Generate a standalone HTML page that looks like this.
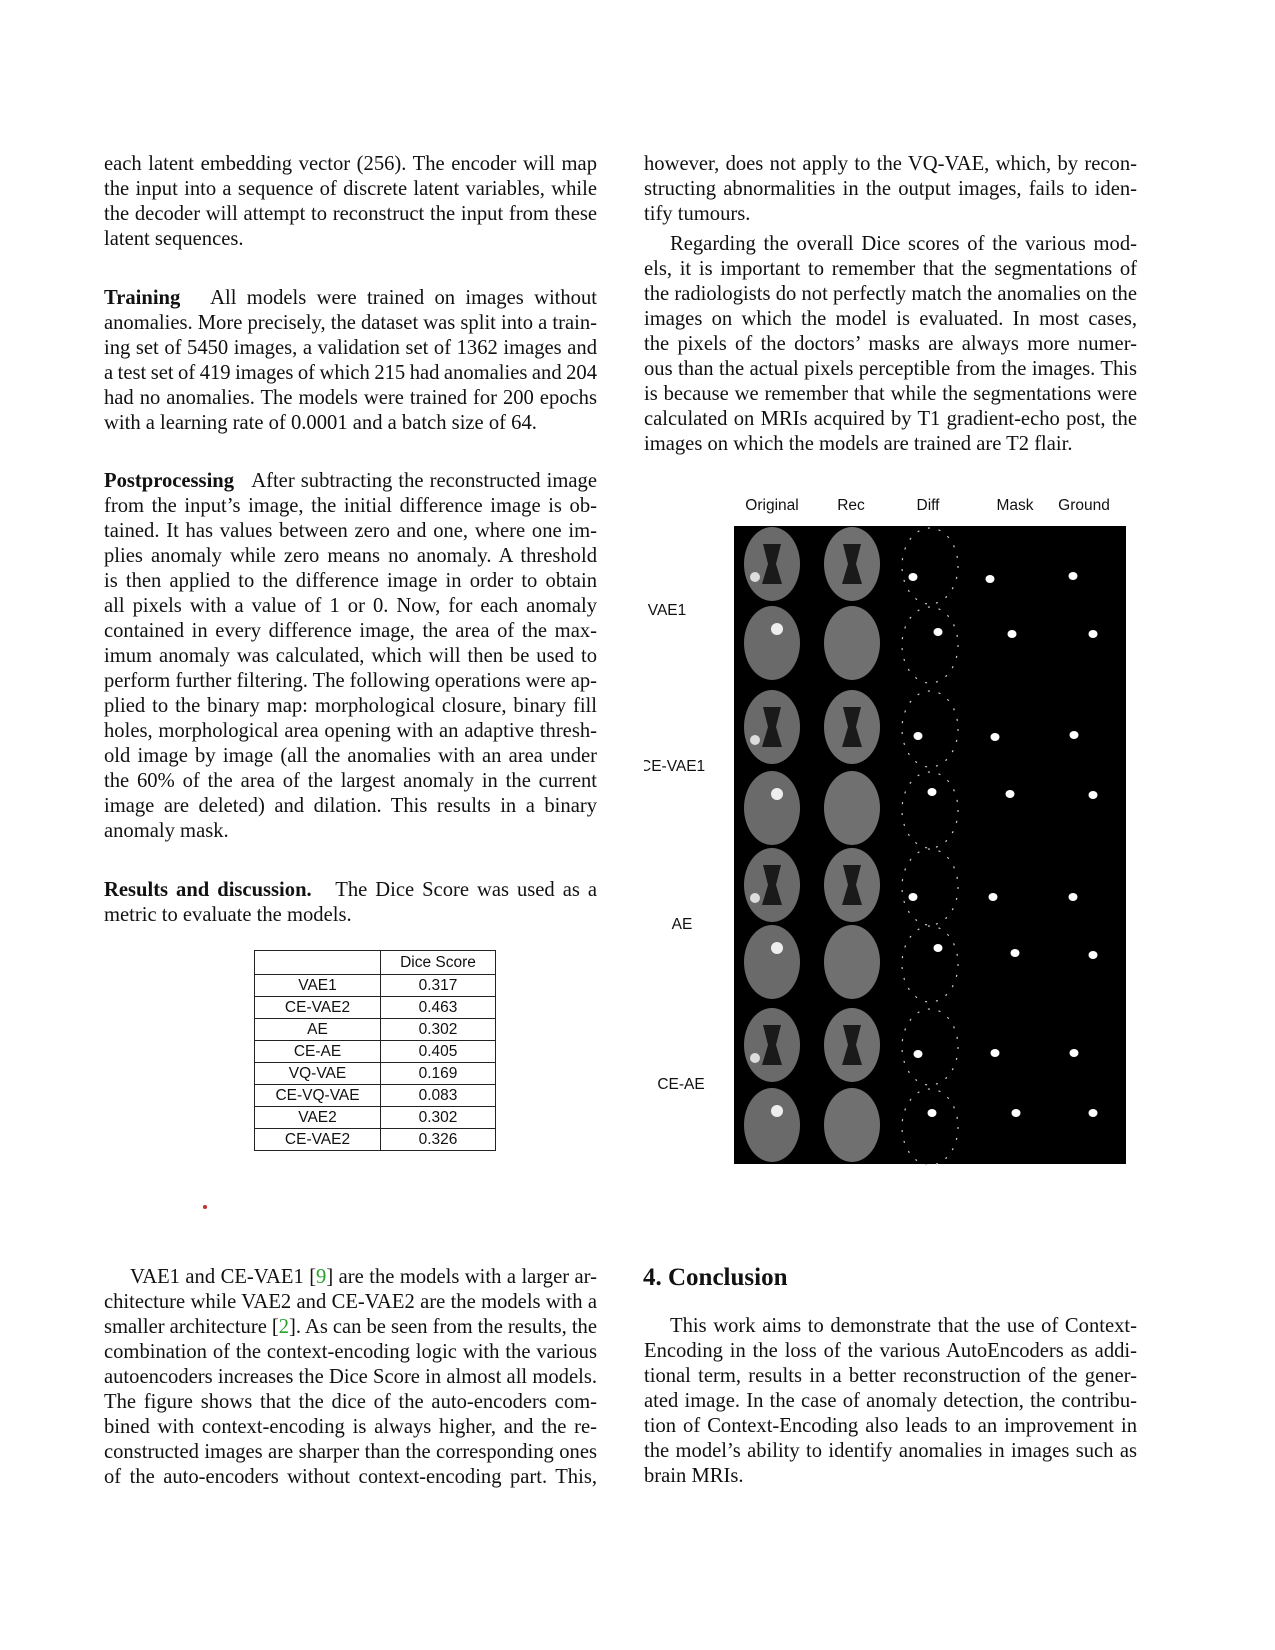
<!DOCTYPE html>
<html><head><meta charset="utf-8">
<style>
body{margin:0;background:#fff;}
#page{position:relative;width:1275px;height:1650px;overflow:hidden;background:#fff;font-family:"Liberation Serif",serif;font-size:20.6px;color:#111;}
.blk{position:absolute;width:493px;line-height:25px;}
.blk div{text-align:justify;text-align-last:justify;white-space:nowrap;word-spacing:-2px;}
.blk div.e{text-align-last:left;word-spacing:0;}
.blk div.i{text-indent:26px;}
.L{left:104px;} .R{left:644px;}
b{font-weight:bold;}
.cite{color:#2ca02c;}
table{position:absolute;left:254px;top:950px;border-collapse:collapse;font-family:"Liberation Sans",sans-serif;font-size:15.5px;}
td{border:1.5px solid #222;height:21px;padding:0;text-align:center;line-height:20px;}
.lab{position:absolute;font-family:"Liberation Sans",sans-serif;font-size:15.5px;color:#111;transform:translateX(-50%);white-space:nowrap;}
</style></head>
<body>
<div id="page">

<div class="blk L" style="top:152px">
<div>each latent embedding vector (256). The encoder will map</div>
<div>the input into a sequence of discrete latent variables, while</div>
<div>the decoder will attempt to reconstruct the input from these</div>
<div class="e">latent sequences.</div>
</div>

<div class="blk L" style="top:286px">
<div><b>Training</b>&nbsp;&nbsp; All models were trained on images without</div>
<div>anomalies. More precisely, the dataset was split into a train-</div>
<div>ing set of 5450 images, a validation set of 1362 images and</div>
<div>a test set of 419 images of which 215 had anomalies and 204</div>
<div>had no anomalies. The models were trained for 200 epochs</div>
<div class="e">with a learning rate of 0.0001 and a batch size of 64.</div>
</div>

<div class="blk L" style="top:469px">
<div><b>Postprocessing</b>&nbsp;&nbsp; After subtracting the reconstructed image</div>
<div>from the input’s image, the initial difference image is ob-</div>
<div>tained. It has values between zero and one, where one im-</div>
<div>plies anomaly while zero means no anomaly. A threshold</div>
<div>is then applied to the difference image in order to obtain</div>
<div>all pixels with a value of 1 or 0. Now, for each anomaly</div>
<div>contained in every difference image, the area of the max-</div>
<div>imum anomaly was calculated, which will then be used to</div>
<div>perform further filtering. The following operations were ap-</div>
<div>plied to the binary map: morphological closure, binary fill</div>
<div>holes, morphological area opening with an adaptive thresh-</div>
<div>old image by image (all the anomalies with an area under</div>
<div>the 60% of the area of the largest anomaly in the current</div>
<div>image are deleted) and dilation. This results in a binary</div>
<div class="e">anomaly mask.</div>
</div>

<div class="blk L" style="top:878px">
<div><b>Results and discussion.</b>&nbsp;&nbsp; The Dice Score was used as a</div>
<div class="e">metric to evaluate the models.</div>
</div>

<table>
<tr><td style="width:125px;height:23px"></td><td style="width:114px">Dice Score</td></tr>
<tr><td>VAE1</td><td>0.317</td></tr>
<tr><td>CE-VAE2</td><td>0.463</td></tr>
<tr><td>AE</td><td>0.302</td></tr>
<tr><td>CE-AE</td><td>0.405</td></tr>
<tr><td>VQ-VAE</td><td>0.169</td></tr>
<tr><td>CE-VQ-VAE</td><td>0.083</td></tr>
<tr><td>VAE2</td><td>0.302</td></tr>
<tr><td>CE-VAE2</td><td>0.326</td></tr>
</table>

<div style="position:absolute;left:203px;top:1205px;width:4px;height:4px;border-radius:50%;background:#c03030"></div>

<div class="blk L" style="top:1265px">
<div class="i">VAE1 and CE-VAE1 [<span class="cite">9</span>] are the models with a larger ar-</div>
<div>chitecture while VAE2 and CE-VAE2 are the models with a</div>
<div>smaller architecture [<span class="cite">2</span>]. As can be seen from the results, the</div>
<div>combination of the context-encoding logic with the various</div>
<div>autoencoders increases the Dice Score in almost all models.</div>
<div>The figure shows that the dice of the auto-encoders com-</div>
<div>bined with context-encoding is always higher, and the re-</div>
<div>constructed images are sharper than the corresponding ones</div>
<div>of the auto-encoders without context-encoding part. This,</div>
</div>

<div class="blk R" style="top:152px">
<div>however, does not apply to the VQ-VAE, which, by recon-</div>
<div>structing abnormalities in the output images, fails to iden-</div>
<div class="e">tify tumours.</div>
</div>

<div class="blk R" style="top:232px">
<div class="i">Regarding the overall Dice scores of the various mod-</div>
<div>els, it is important to remember that the segmentations of</div>
<div>the radiologists do not perfectly match the anomalies on the</div>
<div>images on which the model is evaluated. In most cases,</div>
<div>the pixels of the doctors’ masks are always more numer-</div>
<div>ous than the actual pixels perceptible from the images. This</div>
<div>is because we remember that while the segmentations were</div>
<div>calculated on MRIs acquired by T1 gradient-echo post, the</div>
<div class="e">images on which the models are trained are T2 flair.</div>
</div>

<div class="lab" style="left:772px;top:497px">Original</div>
<div class="lab" style="left:851px;top:497px">Rec</div>
<div class="lab" style="left:928px;top:497px">Diff</div>
<div class="lab" style="left:1015px;top:497px">Mask</div>
<div class="lab" style="left:1084px;top:497px">Ground</div>
<div class="lab" style="left:667px;top:602px">VAE1</div>
<div style="position:absolute;left:644px;top:758px;width:80px;overflow:hidden;white-space:nowrap;font-family:'Liberation Sans',sans-serif;font-size:15.5px"><span style="margin-left:-4px">CE-VAE1</span></div>
<div class="lab" style="left:682px;top:916px">AE</div>
<div class="lab" style="left:681px;top:1076px">CE-AE</div>

<svg id="fig" style="position:absolute;left:0;top:0" width="1275" height="1650"></svg>

<div style="position:absolute;left:643px;top:1264px;font-size:25px;font-weight:bold">4. Conclusion</div>

<div class="blk R" style="top:1314px">
<div class="i">This work aims to demonstrate that the use of Context-</div>
<div>Encoding in the loss of the various AutoEncoders as addi-</div>
<div>tional term, results in a better reconstruction of the gener-</div>
<div>ated image. In the case of anomaly detection, the contribu-</div>
<div>tion of Context-Encoding also leads to an improvement in</div>
<div>the model’s ability to identify anomalies in images such as</div>
<div class="e">brain MRIs.</div>
</div>
</div>

<script>
const rowY=[564,643,727,808,885,962,1045,1125];
const diffBlob=[[913,577],[938,632],[918,736],[932,792],[913,897],[938,948],[918,1054],[932,1113]];
const maskBlob=[[990,579],[1012,634],[995,737],[1010,794],[993,897],[1015,953],[995,1053],[1016,1113]];
const groundBlob=[[1073,576],[1093,634],[1074,735],[1093,795],[1073,897],[1093,955],[1074,1053],[1093,1113]];
const NS="http://www.w3.org/2000/svg";
const svg=document.getElementById('fig');
function mk(t,a){const e=document.createElementNS(NS,t);for(const k in a)e.setAttribute(k,a[k]);svg.appendChild(e);return e;}
const bg=mk('rect',{x:734,y:526,width:392,height:638,fill:'#000'});


rowY.forEach((cy,i)=>{
  [772,852].forEach((cx,j)=>{
    const b=mk('ellipse',{cx:cx,cy:cy,rx:28,ry:37,fill:j==0?'#6a6a6a':'#707070'});
    
    
    if(i%2==0){
      mk('path',{d:`M${cx-9} ${cy-20} L${cx+9} ${cy-20} L${cx+4} ${cy} L${cx+10} ${cy+20} L${cx-10} ${cy+20} L${cx-4} ${cy} Z`,fill:'#1a1a1a'});
      if(j==0) mk('circle',{cx:cx-17,cy:cy+13,r:5,fill:'#ddd'});
    } else if(j==0){
      mk('circle',{cx:cx+5,cy:cy-14,r:6,fill:'#eee'});
    }
  });
  const ring=mk('ellipse',{cx:930,cy:cy+2,rx:28,ry:38,fill:'none',stroke:'#ccc','stroke-width':1.2,'stroke-dasharray':'2 9'});
  
  
  [diffBlob,maskBlob,groundBlob].forEach(arr=>{
    const p=arr[i];
    const c=mk('ellipse',{cx:p[0],cy:p[1],rx:4.5,ry:4,fill:'#fff'});
    
    
  });
});
</script>
</body></html>
